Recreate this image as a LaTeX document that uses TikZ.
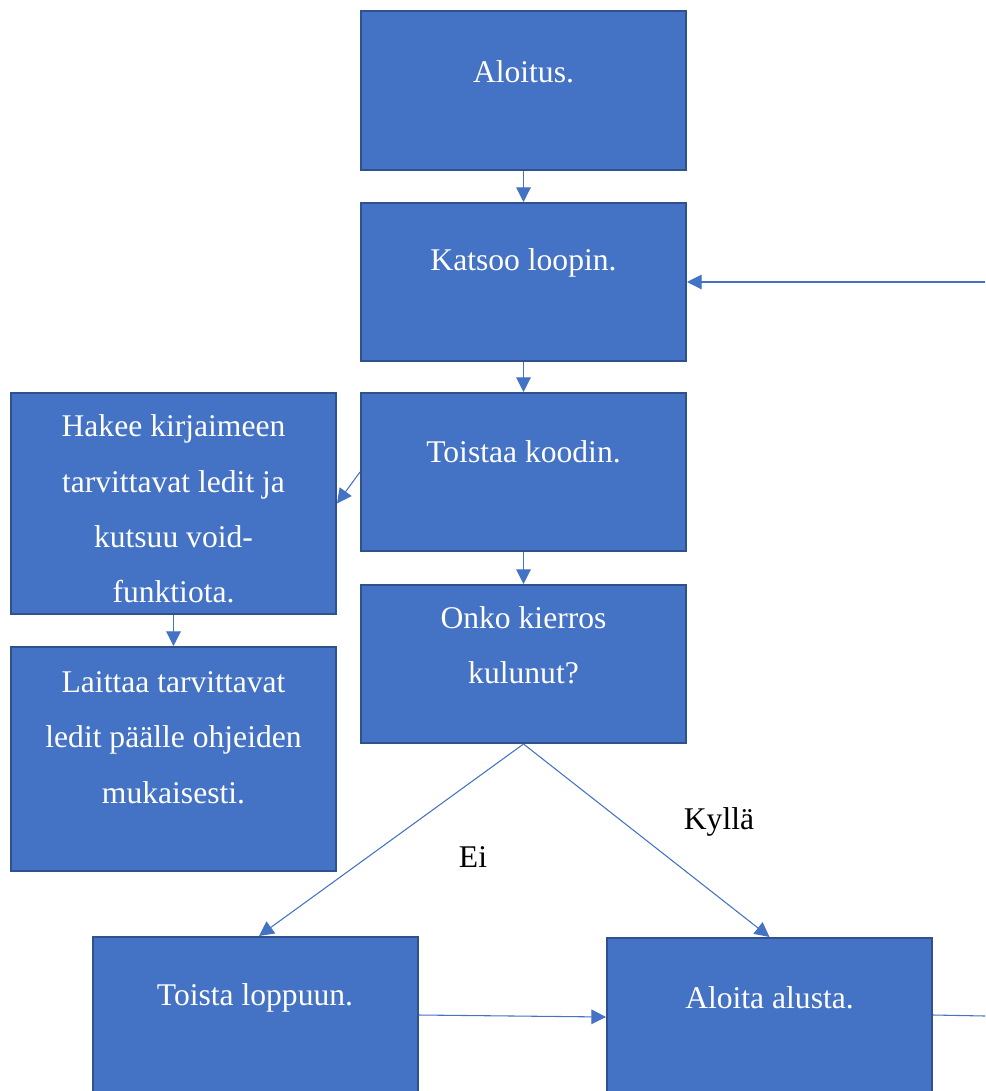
\documentclass[tikz,border=0pt]{standalone}
\usepackage{fontspec}
\setmainfont{Liberation Serif}
\definecolor{boxblue}{RGB}{68, 114, 196}
\definecolor{edgeblue}{RGB}{47, 82, 143}
\usetikzlibrary{arrows.meta, positioning, calc}

\begin{document}
\begin{tikzpicture}[x=0.75pt, y=-0.75pt,
  stepbox/.style={draw=edgeblue, fill=boxblue, line width=1.5pt, minimum width=243.75pt, inner sep=0pt},
  boxtext/.style={text=white, align=center, font=\fontsize{23.7}{41.6}\selectfont},
  answer/.style={font=\fontsize{23.7}{41.6}\selectfont},
  flow/.style={draw=boxblue, line width=0.8pt, -{Triangle[length=11pt, width=11pt]}}]
  \useasboundingbox (0,0) rectangle (985,1091);
  \clip (0,0) rectangle (985,1091);

  % boxes
  \node[stepbox, minimum height=119.25pt] (start) at (523.5,90.5) {};
  \node[stepbox, minimum height=118.5pt] (look) at (523.5,282) {};
  \node[stepbox, minimum height=118.5pt] (repeat) at (523.5,472) {};
  \node[stepbox, minimum height=118.5pt] (check) at (523.5,664) {};
  \node[stepbox, minimum height=165.75pt] (fetch) at (173.5,503.5) {};
  \node[stepbox, minimum height=168pt] (lights) at (173.5,759) {};
  \node[stepbox, minimum height=122.25pt] (toend) at (255,1018.5) {};
  \node[stepbox, minimum height=121.5pt] (restart) at (769.5,1019) {};

  % texts
  \node[boxtext] (starttext) at ($(start.north)+(0,62)$) {Aloitus.};
  \node[boxtext] (looktext) at ($(look.north)+(0,61)$) {Katsoo loopin.};
  \node[boxtext] (repeattext) at ($(repeat.north)+(0,60)$) {Toistaa koodin.};
  \node[boxtext] (checktext) at ($(check.north)+(0,61)$) {Onko kierros\\kulunut?};
  \node[boxtext] (fetchtext) at ($(fetch.north)+(0,117)$) {Hakee kirjaimeen\\tarvittavat ledit ja\\kutsuu void-\\funktiota.};
  \node[boxtext] (lightstext) at ($(lights.north)+(0,91.5)$) {Laittaa tarvittavat\\ledit päälle ohjeiden\\mukaisesti.};
  \node[boxtext] (toendtext) at ($(toend.north)+(0,62)$) {Toista loppuun.};
  \node[boxtext] (restarttext) at ($(restart.north)+(0,61)$) {Aloita alusta.};

  \node[answer] (no) at (473,857) {Ei};
  \node[answer] (yes) at (719,822) {Kyllä};

  % connectors
  \coordinate (backin) at (985,282);
  \coordinate (backout) at (985,1016);
  \draw[flow] (start.south) -- (look.north);
  \draw[flow] (look.south) -- (repeat.north);
  \draw[flow] (repeat.south) -- (check.north);
  \draw[flow] (repeat.west) -- (fetch.east);
  \draw[flow] (fetch.south) -- (lights.north);
  \draw[flow] (check.south) -- ($(toend.north)+(4,0)$);
  \draw[flow] (check.south) -- (restart.north);
  \draw[flow] ($(toend.north east)+(0,79)$) -- ($(restart.north west)+(0,80)$);
  \draw[flow] (backin) -- (look.east);
  \draw[draw=boxblue, line width=0.8pt] ($(restart.north east)+(0,78)$) -- (backout);
\end{tikzpicture}
\end{document}
